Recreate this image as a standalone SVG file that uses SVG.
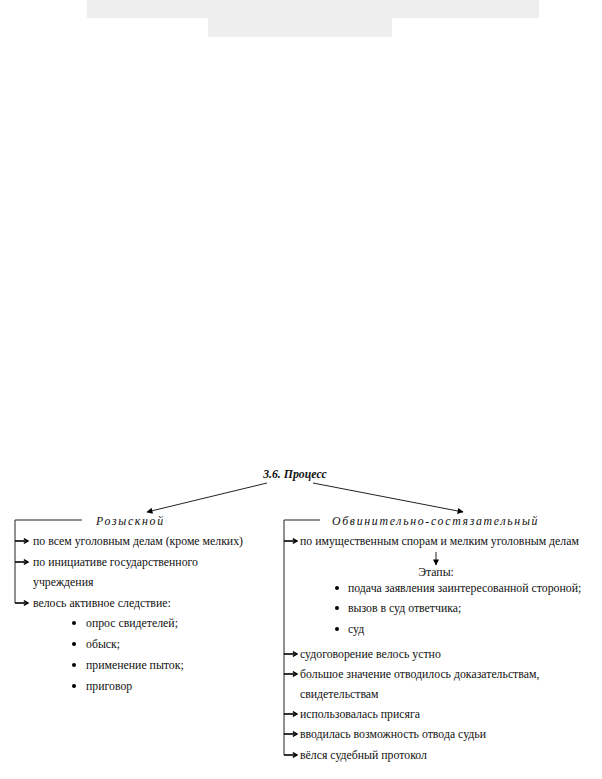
<svg xmlns="http://www.w3.org/2000/svg" width="602" height="779" viewBox="0 0 602 779">
<defs>
<marker id="chev" viewBox="0 0 10 10" refX="9" refY="5" markerWidth="6" markerHeight="6" orient="auto" markerUnits="userSpaceOnUse">
<path d="M2,1 L9,5 L2,9" fill="none" stroke="#000" stroke-width="2.2"/>
</marker>
<marker id="tri" viewBox="0 0 10 10" refX="9" refY="5" markerWidth="7" markerHeight="6" orient="auto" markerUnits="userSpaceOnUse">
<path d="M0,0 L10,5 L0,10 z" fill="#000"/>
</marker>
<style>
text{font-family:"Liberation Serif","Times New Roman",serif;font-size:11.8px;fill:#111}
.head{font-style:italic;letter-spacing:1.7px}
.title{font-weight:bold;font-style:italic}
.ln{stroke:#222;stroke-width:1;fill:none}
.ar{stroke:#000;stroke-width:1.6;fill:none;marker-end:url(#chev)}
.main{stroke:#222;stroke-width:1;fill:none;marker-end:url(#tri)}
</style>
</defs>
<rect x="87" y="0" width="452" height="18" fill="#eeeeee"/>
<rect x="208" y="18" width="184" height="19" fill="#eeeeee"/>
<g id="title"><text class="title" x="295" y="478" text-anchor="middle">3.6. Процесс</text></g>
<g id="connectors">
<path class="main" d="M267,483 L147,512"/>
<path class="main" d="M313,483 L463,512"/>
<path class="ln" d="M82,520 H15 V603"/>
<path class="ar" d="M15,541 H28"/>
<path class="ar" d="M15,562 H28"/>
<path class="ar" d="M15,603 H28"/>
<path class="ln" d="M320,520 H284 V755"/>
<path class="ar" d="M284,541 H297"/>
<path class="ar" d="M284,654 H297"/>
<path class="ar" d="M284,674 H297"/>
<path class="ar" d="M284,714 H297"/>
<path class="ar" d="M284,734 H297"/>
<path class="ar" d="M284,755 H297"/>
<path class="main" d="M436,552 V565"/>
</g>
<g id="left">
<text class="head" x="96" y="525">Розыскной</text>
<text x="33" y="545">по всем уголовным делам (кроме мелких)</text>
<text x="33" y="566">по инициативе государственного</text>
<text x="33" y="586">учреждения</text>
<text x="33" y="607">велось активное следствие:</text>
<circle cx="74" cy="623" r="2"/><text x="86" y="627">опрос свидетелей;</text>
<circle cx="74" cy="644" r="2"/><text x="86" y="648">обыск;</text>
<circle cx="74" cy="665" r="2"/><text x="86" y="669">применение пыток;</text>
<circle cx="74" cy="686" r="2"/><text x="86" y="690">приговор</text>
</g>
<g id="right">
<text class="head" x="332" y="525">Обвинительно-состязательный</text>
<text x="300" y="545">по имущественным спорам и мелким уголовным делам</text>
<text x="436" y="576" text-anchor="middle">Этапы:</text>
<circle cx="337" cy="588" r="2"/><text x="348" y="592">подача заявления заинтересованной стороной;</text>
<circle cx="337" cy="608" r="2"/><text x="348" y="612">вызов в суд ответчика;</text>
<circle cx="337" cy="629" r="2"/><text x="348" y="633">суд</text>
<text x="300" y="658">судоговорение велось устно</text>
<text x="300" y="678">большое значение отводилось доказательствам,</text>
<text x="300" y="698">свидетельствам</text>
<text x="300" y="718">использовалась присяга</text>
<text x="300" y="738">вводилась возможность отвода судьи</text>
<text x="300" y="759">вёлся судебный протокол</text>
</g>
</svg>
